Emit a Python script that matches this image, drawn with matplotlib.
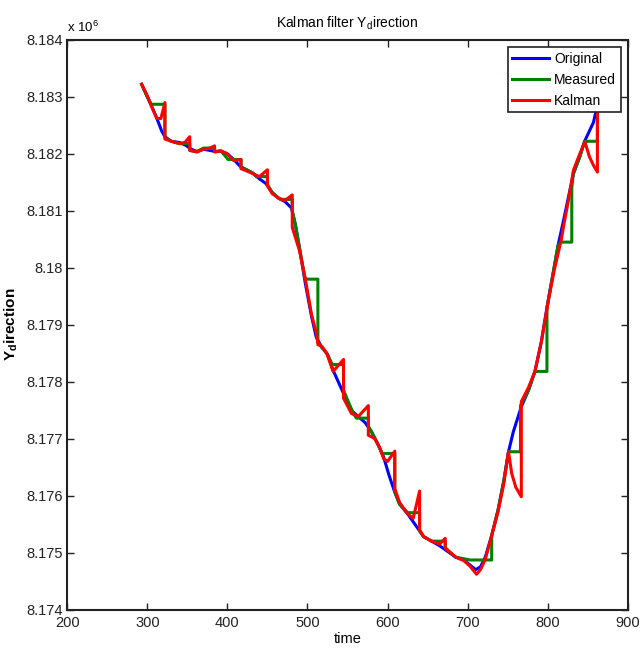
import matplotlib
matplotlib.use("Agg")
import matplotlib.pyplot as plt
from matplotlib.ticker import MultipleLocator, FormatStrFormatter

plt.rcParams['font.family'] = ['Liberation Sans Narrow', 'Liberation Sans', 'DejaVu Sans']

# values (y in units of 1e6)
orig_t = [293, 300, 305, 312, 318, 322, 330, 340, 348, 355, 362, 370, 378, 385, 392,
          400, 408, 416, 424, 432, 440, 448, 456, 464, 472, 480, 485, 490, 497, 505,
          511, 518, 525, 532, 540, 548, 556, 564, 572, 580, 588, 595, 602, 608, 615,
          625, 635, 645, 655, 665, 675, 685, 695, 703, 710, 716, 722, 730, 738, 745,
          751, 757, 767, 776, 784, 792, 799, 806, 813, 820, 826, 832, 840, 846, 852,
          857, 862]
orig_y = [8.18322, 8.18300, 8.18285, 8.18262, 8.18240, 8.18230, 8.18222, 8.18220,
          8.18215, 8.18208, 8.18204, 8.18208, 8.18206, 8.18204, 8.18205, 8.18200,
          8.18190, 8.18178, 8.18172, 8.18166, 8.18156, 8.18148, 8.18132, 8.18122,
          8.18116, 8.18105, 8.18075, 8.18035, 8.17975, 8.17915, 8.17878, 8.17860,
          8.17848, 8.17820, 8.17795, 8.17770, 8.17748, 8.17738, 8.17728, 8.17712,
          8.17690, 8.17668, 8.17635, 8.17610, 8.17585, 8.17568, 8.17548, 8.17528,
          8.17520, 8.17512, 8.17502, 8.17492, 8.17487, 8.17478, 8.17470, 8.17475,
          8.17492, 8.17530, 8.17575, 8.17625, 8.17677, 8.17712, 8.17756, 8.17785,
          8.17818, 8.17870, 8.17930, 8.17985, 8.18040, 8.18085, 8.18125, 8.18165,
          8.18195, 8.18222, 8.18240, 8.18255, 8.18285]

meas_t = [293, 300, 305, 322, 322, 330, 340, 353, 353, 362, 370, 384, 384, 392, 401,
          417, 417, 424, 432, 436, 450, 450, 456, 466, 481, 481, 485, 490, 497, 513,
          513, 518, 525, 531, 545, 545, 556, 561, 576, 576, 580, 588, 593, 609, 609,
          615, 625, 640, 640, 645, 655, 672, 672, 685, 703, 730, 730, 738, 745, 751,
          766, 766, 776, 784, 799, 799, 806, 813, 817, 830, 830, 832, 840, 846, 862,
          862]
meas_y = [8.18322, 8.18300, 8.18287, 8.18287, 8.18228, 8.18222, 8.18218, 8.18218,
          8.18206, 8.18204, 8.18210, 8.18210, 8.18204, 8.18205, 8.18190, 8.18190,
          8.18176, 8.18172, 8.18166, 8.18160, 8.18160, 8.18146, 8.18132, 8.18120,
          8.18120, 8.18100, 8.18075, 8.18035, 8.17980, 8.17980, 8.17870, 8.17860,
          8.17848, 8.17830, 8.17830, 8.17785, 8.17748, 8.17736, 8.17736, 8.17722,
          8.17712, 8.17690, 8.17674, 8.17674, 8.17606, 8.17585, 8.17570, 8.17570,
          8.17538, 8.17528, 8.17520, 8.17520, 8.17508, 8.17492, 8.17487, 8.17487,
          8.17530, 8.17575, 8.17625, 8.17677, 8.17677, 8.17758, 8.17785, 8.17818,
          8.17818, 8.17930, 8.17985, 8.18040, 8.18045, 8.18045, 8.18140, 8.18165,
          8.18195, 8.18222, 8.18222, 8.18285]

kal_t = [293, 300, 305, 312, 317, 322, 322, 330, 340, 347, 353, 353, 362, 370, 378,
         384, 384, 392, 400, 408, 417, 417, 424, 432, 440, 450, 450, 456, 464, 472,
         481, 481, 490, 497, 505, 511.6, 513, 518, 524, 532, 545, 545, 555, 563.5,
         576, 576, 584, 590.6, 595, 600, 609, 609, 615, 625, 632, 640, 640, 645, 655,
         665, 672, 672, 685, 695, 703, 711, 716, 722, 730, 738, 745, 751, 755, 760,
         767, 767, 776, 784, 792, 800.6, 808, 817, 820, 826, 830, 832, 840, 846.4,
         852, 857, 862, 862]
kal_y = [8.18322, 8.18302, 8.18284, 8.18262, 8.18262, 8.18290, 8.18226, 8.18222,
         8.18218, 8.18220, 8.18230, 8.18206, 8.18203, 8.18208, 8.18210, 8.18214,
         8.18203, 8.18205, 8.18200, 8.18188, 8.18190, 8.18174, 8.18170, 8.18165,
         8.18160, 8.18172, 8.18144, 8.18130, 8.18122, 8.18118, 8.18128, 8.18071,
         8.18030, 8.17983, 8.17918, 8.17883, 8.17865, 8.17862, 8.17850, 8.17818,
         8.17839, 8.17771, 8.17744, 8.17739, 8.17758, 8.17706, 8.17700, 8.17683,
         8.17665, 8.17660, 8.17678, 8.17612, 8.17588, 8.17568, 8.17560, 8.17608,
         8.17540, 8.17528, 8.17520, 8.17515, 8.17525, 8.17508, 8.17492, 8.17486,
         8.17476, 8.17462, 8.17470, 8.17488, 8.17530, 8.17572, 8.17620, 8.17677,
         8.17639, 8.17615, 8.17598, 8.17765, 8.17790, 8.17818, 8.17870, 8.17941,
         8.17995, 8.18050, 8.18075, 8.18120, 8.18153, 8.18171, 8.18200, 8.18221,
         8.18195, 8.18180, 8.18168, 8.18275]

fig = plt.figure(figsize=(6.4, 6.54), dpi=100)
ax = fig.add_axes([0.105, 0.068, 0.876, 0.871])

ax.plot(orig_t, orig_y, color='#0000ff', lw=2.2, label='Original')
ax.plot(meas_t, meas_y, color='#008000', lw=2.2, label='Measured')
ax.plot(kal_t, kal_y, color='#ff0000', lw=2.2, label='Kalman')

ax.set_xlim(200, 900)
ax.set_ylim(8.174, 8.184)
ax.xaxis.set_major_locator(MultipleLocator(100))
ax.yaxis.set_major_locator(MultipleLocator(0.001))
ax.yaxis.set_major_formatter(FormatStrFormatter('%g'))

ax.tick_params(direction='in', top=True, right=True, length=5, width=1,
               labelsize=10.5, colors='#222222', pad=3)
ax.tick_params(axis='x', pad=5)
for s in ax.spines.values():
    s.set_linewidth(1.5)
    s.set_color('#222222')

ax.set_title('Kalman filter Y$_\\mathregular{d}$irection', fontsize=10, pad=9)
ax.set_xlabel('time', fontsize=10.5, labelpad=1)
ax.set_ylabel('Y$_\\mathregular{d}$irection', fontsize=11, fontweight='bold', labelpad=5)
ax.text(0.0, 1.008, 'x 10$^\\mathregular{6}$', transform=ax.transAxes, fontsize=9.5,
        ha='left', va='bottom')

leg = ax.legend(loc='upper right', fontsize=10, handlelength=2.6, fancybox=False,
                framealpha=1, edgecolor='#222222', borderaxespad=0.5,
                borderpad=0.35, labelspacing=0.5, handletextpad=0.4)
leg.get_frame().set_linewidth(1.2)

fig.savefig('out.png', dpi=100)
